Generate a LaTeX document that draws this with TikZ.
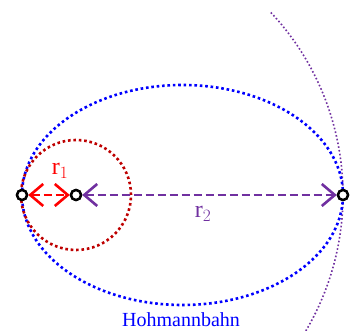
\documentclass[tikz,border=0pt]{standalone}
\usepackage{fontspec}
\setmainfont{Liberation Serif}
\usetikzlibrary{arrows.meta}
\definecolor{orbred}{RGB}{190,0,0}
\definecolor{orbpurple}{RGB}{112,48,160}
\begin{document}
\begin{tikzpicture}[x=1pt,y=1pt,
  pt/.style={circle,draw=black,line width=2.4pt,inner sep=0pt,minimum size=10pt,fill=white},
  dotline/.style={line width=2.6pt,dash pattern=on 2.6pt off 2.8pt},
  thindot/.style={line width=1.6pt,dash pattern=on 1.6pt off 2.2pt},
  dimarrow/.style={line width=2.6pt,dash pattern=on 8pt off 4pt,{Straight Barb[length=13pt,width=22pt,line width=2.6pt]}-{Straight Barb[length=13pt,width=22pt,line width=2.6pt]}},
  lbl/.style={inner sep=0pt}]
\useasboundingbox (0,0) rectangle (350,331);
\coordinate (S) at (76,136);
\draw[orbpurple,thindot] ([shift={(-30.6:267)}]S) arc[start angle=-30.6,end angle=43.3,radius=267];
\draw[blue,dotline] (182.5,136) ellipse[x radius=160.5,y radius=110];
\draw[orbred,dotline] (S) circle[radius=55];
\node[pt] (P1) at (22,136) {};
\node[pt] (C) at (S) {};
\node[pt] (P2) at (343,136) {};
\draw[red,dimarrow] (P1) -- (C);
\draw[orbpurple,dimarrow] (C) -- (P2);
\node[pt] at (P1) {};
\node[pt] at (C) {};
\node[pt] at (P2) {};
\node[lbl,red,font=\fontsize{24}{26}\selectfont] (r1) at (60,160) {r$_1$};
\node[lbl,orbpurple,font=\fontsize{24}{26}\selectfont] (r2) at (203,117) {r$_2$};
\node[lbl,blue,font=\fontsize{20}{23}\selectfont,anchor=base] (hb) at (181,4) {Hohmannbahn};
\end{tikzpicture}
\end{document}
